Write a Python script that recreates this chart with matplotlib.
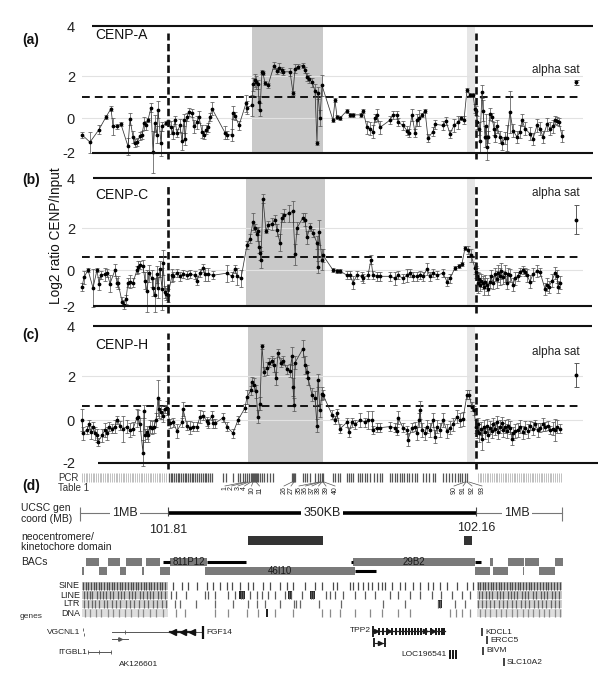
import numpy as np
import matplotlib
matplotlib.use("Agg")
import matplotlib.pyplot as plt
from matplotlib.patches import Rectangle

plt.rcParams['font.family'] = ['Liberation Sans', 'DejaVu Sans']

# ------------------------------------------------------------------ data
# positions are along the compressed genomic axis of the figure (left 1MB flank,
# 101.81-102.16 core, right 1MB flank)
a_pos = [82, 90, 99, 106, 111, 113, 117, 121, 128, 130,
         133, 135, 137, 140, 142, 144, 146, 148, 151, 153,
         155, 157, 158, 161, 162, 166, 168, 171, 173, 175,
         177, 180, 182, 184, 185, 187, 189, 192, 194, 197,
         199, 202, 204, 206, 208, 210, 212, 225, 227, 232,
         233, 235, 239, 246, 247, 252, 253, 255, 256, 258,
         259, 260, 262, 263, 265, 268, 274, 277, 279, 282,
         283, 290, 293, 295, 298, 303, 305, 307, 309, 312,
         315, 317, 318, 320, 322, 333, 335, 337, 340, 347,
         350, 353, 361, 363, 367, 370, 373, 375, 377, 380,
         390, 393, 397, 398, 403, 407, 409, 412, 415, 417,
         419, 422, 425, 428, 433, 435, 443, 446, 450, 454,
         458, 461, 464, 467, 470, 473, 475, 476, 477, 479,
         480, 482, 483, 485, 486, 487, 488, 490, 492, 494,
         495, 497, 500, 502, 505, 507, 510, 513, 517, 520,
         522, 525, 530, 533, 537, 540, 543, 547, 550, 553,
         555, 557, 559, 562]
a_val = [-0.8, -1.15, -0.55, 0.05, 0.45, -0.4, -0.4, -0.3, -1.35, -0.05,
         -0.9, -1.2, -1.15, -0.85, -0.8, -0.25, -0.35, -0.1, 0.5, -1.6,
         -0.25, -0.8, 0.4, -1.2, -0.4, -0.25, -0.2, -0.45, -0.7, -0.1,
         -0.7, -0.35, -1.1, -0.1, -1.0, 0.05, 0.3, 0.25, -0.4, -0.2,
         0.05, -0.65, -0.8, -0.55, -0.45, 0.05, 0.45, -0.7, -0.8, -0.8,
         0.25, 0.1, -0.35, 0.7, 0.5, 0.6, 1.6, 1.8, 1.7, 1.6,
         0.75, 0.4, 2.2, 2.15, 1.65, 1.55, 2.5, 2.25, 2.4, 2.3,
         2.2, 2.2, 1.2, 2.35, 2.45, 2.5, 2.3, 1.95, 1.85, 1.7,
         1.3, -1.2, 1.2, 0.0, 1.55, -0.1, 0.85, 0.05, 0.0, 0.35,
         0.15, 0.15, 0.15, 0.35, -0.45, -0.5, -0.65, 0.0, 0.15, -0.45,
         -0.1, 0.15, 0.15, -0.2, -0.35, -0.6, -0.7, 0.15, -0.7, -0.1,
         0.0, 0.15, 0.35, -0.95, -0.65, -0.3, -0.35, -0.15, -0.75, -0.35,
         -0.2, 0.0, -0.1, 1.35, 1.1, 1.1, 0.45, 0.35, -0.2, -0.5,
         -1.1, 1.25, 0.35, -0.9, -0.4, -1.4, -0.9, 0.2, 0.05, -0.5,
         -0.85, -0.4, -0.9, -1.2, -0.95, -0.95, 0.3, -0.6, -0.9, -0.65,
         -0.1, -0.5, -0.75, -1.0, -0.35, -0.5, -0.9, -0.3, -0.5, -0.4,
         -0.1, -0.15, -0.2, -0.85]
a_err = [0.15, 0.5, 0.2, 0.1, 0.1, 0.4, 0.1, 0.1, 0.4, 0.3,
         0.3, 0.2, 0.2, 0.2, 0.2, 0.3, 0.2, 0.1, 0.2, 1.0,
         0.4, 0.4, 0.4, 0.6, 0.2, 0.1, 0.1, 0.3, 0.3, 0.2,
         0.2, 0.3, 0.4, 0.3, 0.3, 0.2, 0.2, 0.2, 0.3, 0.3,
         0.3, 0.3, 0.2, 0.2, 0.2, 0.2, 0.3, 0.3, 0.2, 0.3,
         0.3, 0.2, 0.2, 0.4, 0.3, 0.5, 0.3, 0.3, 0.3, 0.2,
         0.3, 0.3, 0.1, 0.1, 0.1, 0.1, 0.15, 0.15, 0.2, 0.15,
         0.15, 0.2, 0.1, 0.2, 0.1, 0.1, 0.15, 0.2, 0.2, 0.2,
         0.3, 0.1, 0.3, 0.4, 0.5, 0.1, 0.1, 0.1, 0.1, 0.1,
         0.1, 0.1, 0.1, 0.1, 0.3, 0.3, 0.3, 0.2, 0.3, 0.3,
         0.2, 0.2, 0.2, 0.2, 0.2, 0.2, 0.2, 0.3, 0.2, 0.3,
         0.4, 0.1, 0.1, 0.2, 0.2, 0.2, 0.2, 0.2, 0.2, 0.3,
         0.3, 0.1, 0.2, 0.1, 0.1, 0.1, 0.2, 0.2, 0.3, 0.3,
         0.5, 0.3, 0.5, 0.5, 0.6, 0.6, 0.3, 0.3, 0.2, 0.3,
         0.3, 0.3, 0.3, 0.3, 0.3, 0.6, 1.0, 0.3, 0.3, 0.3,
         0.3, 0.3, 0.3, 0.3, 0.3, 0.3, 0.3, 0.3, 0.3, 0.3,
         0.2, 0.2, 0.2, 0.3]

b_pos = [82, 84, 88, 93, 97, 99, 101, 105, 107, 110,
         115, 117, 118, 122, 124, 126, 128, 130, 133, 137,
         138, 140, 143, 145, 147, 149, 152, 153, 155, 157,
         158, 160, 162, 163, 165, 166, 168, 172, 173, 177,
         180, 183, 187, 190, 195, 197, 200, 203, 205, 208,
         213, 227, 232, 235, 237, 241, 247, 250, 253, 255,
         257, 258, 259, 260, 261, 263, 266, 268, 272, 275,
         277, 280, 282, 284, 289, 293, 295, 297, 303, 305,
         307, 310, 313, 317, 318, 319, 322, 323, 333, 337,
         340, 347, 350, 353, 357, 362, 363, 368, 371, 373,
         377, 380, 390, 395, 398, 403, 407, 410, 413, 417,
         420, 423, 427, 430, 433, 437, 443, 447, 450, 455,
         459, 462, 465, 468, 471, 475, 476, 477, 478, 479,
         480, 481, 483, 484, 485, 487, 488, 490, 491, 493,
         495, 497, 498, 500, 501, 503, 505, 507, 508, 510,
         513, 515, 518, 520, 523, 525, 527, 530, 533, 537,
         540, 545, 547, 549, 552, 555, 557, 558, 560]
b_val = [-0.8, -0.35, 0.0, -0.85, 0.0, -0.65, -0.25, -0.2, -0.15, -0.65,
         0.0, -0.6, -0.6, -1.5, -1.65, -1.4, -0.6, -0.55, -0.6, 0.0,
         0.15, 0.25, 0.2, -0.5, -1.0, -0.15, -0.4, -0.85, -1.2, -0.2,
         -0.85, 0.05, -0.9, 0.35, -1.05, -1.15, -1.2, -0.25, -0.3, -0.15,
         -0.3, -0.2, -0.25, -0.2, -0.25, -0.5, -0.15, 0.1, -0.2, -0.2,
         -0.25, -0.15, -0.3, 0.05, -0.3, -0.4, 1.2, 1.5, 2.3, 2.0,
         1.7, 1.85, 1.1, 0.8, 0.5, 3.4, 1.85, 2.15, 2.2, 2.4,
         1.9, 1.3, 2.5, 2.6, 2.7, 2.8, 0.75, 2.0, 2.5, 2.4,
         1.55, 2.05, 1.75, 1.3, 0.15, 1.8, 0.5, 0.7, 0.0, -0.05,
         -0.05, -0.25, -0.25, -0.6, -0.25, -0.3, -0.4, -0.25, 0.5, -0.25,
         -0.3, -0.3, -0.3, -0.4, -0.25, -0.4, -0.25, -0.15, -0.3, -0.3,
         -0.25, -0.3, 0.05, -0.3, -0.15, -0.25, -0.15, -0.55, -0.4, 0.1,
         0.2, 0.3, 1.05, 0.95, 0.7, 0.1, -0.1, -0.3, -0.6, -0.45,
         -0.7, -0.5, -0.6, -0.8, -0.55, -0.7, -0.9, -0.55, -0.3, -0.6,
         -0.2, -0.45, -0.15, -0.3, -0.05, -0.35, -0.15, -0.6, -0.2, -0.25,
         -0.7, -0.4, -0.3, -0.1, 0.0, -0.1, -0.25, -0.55, -0.2, -0.05,
         -0.1, -0.9, -0.7, -0.8, -0.5, -0.15, -0.3, -0.8, -0.6]
b_err = [0.2, 0.3, 0.1, 0.9, 0.1, 0.3, 0.2, 0.3, 0.2, 0.4,
         0.3, 0.2, 0.3, 0.2, 0.2, 0.2, 0.2, 0.3, 0.2, 0.2,
         0.3, 0.2, 0.3, 0.4, 1.0, 0.4, 0.4, 0.4, 0.8, 0.4,
         0.5, 0.4, 1.0, 0.6, 0.3, 0.3, 0.3, 0.3, 0.2, 0.2,
         0.2, 0.2, 0.2, 0.2, 0.2, 0.2, 0.2, 0.2, 0.3, 0.3,
         0.2, 0.4, 0.2, 0.2, 0.4, 0.4, 0.2, 0.2, 0.4, 0.2,
         0.3, 0.2, 0.3, 0.3, 0.4, 0.2, 0.1, 0.2, 0.3, 0.2,
         0.3, 0.4, 0.2, 0.3, 0.4, 0.5, 0.5, 0.3, 0.2, 0.3,
         0.3, 0.2, 0.2, 0.3, 0.3, 0.6, 0.5, 0.3, 0.1, 0.1,
         0.1, 0.2, 0.2, 0.3, 0.2, 0.2, 0.2, 0.2, 0.2, 0.2,
         0.2, 0.2, 0.2, 0.3, 0.2, 0.2, 0.3, 0.2, 0.2, 0.2,
         0.2, 0.2, 0.3, 0.2, 0.2, 0.2, 0.2, 0.2, 0.2, 0.1,
         0.1, 0.1, 0.1, 0.2, 0.3, 0.3, 0.3, 0.4, 0.5, 0.3,
         0.3, 0.3, 0.3, 0.4, 0.3, 0.3, 0.3, 0.3, 0.3, 0.3,
         0.3, 0.4, 0.4, 0.4, 0.4, 0.3, 0.4, 0.3, 0.3, 0.3,
         0.3, 0.3, 0.2, 0.2, 0.2, 0.2, 0.3, 0.3, 0.3, 0.3,
         0.2, 0.3, 0.3, 0.3, 0.3, 0.3, 0.3, 0.3, 0.3]

c_pos = [82, 83, 87, 89, 91, 93, 95, 97, 98, 102,
         105, 107, 109, 112, 115, 117, 120, 123, 127, 130,
         133, 137, 138, 140, 143, 144, 145, 147, 148, 150,
         152, 154, 156, 158, 159, 161, 163, 165, 167, 170,
         173, 177, 182, 183, 187, 190, 193, 197, 200, 203,
         207, 208, 212, 213, 215, 223, 227, 233, 238, 245,
         247, 251, 252, 254, 256, 258, 260, 262, 264, 267,
         269, 272, 274, 276, 278, 281, 283, 287, 290, 292,
         293, 294, 295, 303, 305, 307, 308, 312, 315, 317,
         318, 320, 322, 323, 332, 335, 337, 340, 347, 349,
         352, 355, 360, 365, 368, 372, 373, 377, 380, 390,
         395, 397, 398, 403, 407, 408, 412, 415, 417, 419,
         420, 422, 425, 427, 430, 433, 435, 437, 440, 443,
         447, 450, 453, 457, 460, 463, 467, 469, 472, 474,
         476, 477, 478, 479, 481, 482, 484, 485, 487, 488,
         490, 492, 493, 495, 497, 498, 500, 502, 503, 505,
         507, 508, 510, 512, 513, 515, 518, 520, 523, 525,
         528, 530, 533, 535, 538, 540, 543, 545, 548, 550,
         553, 555, 557, 560]
c_val = [0.0, -0.6, -0.45, -0.2, -0.55, -0.3, -0.6, -0.7, -1.0, -0.7,
         -0.45, -0.6, -0.3, -0.4, -0.3, 0.0, -0.25, -0.4, -0.3, -0.45,
         -0.4, 0.1, 0.15, -0.2, -1.5, 0.4, -0.7, -0.55, -0.7, -0.3,
         -0.35, -0.3, 0.0, 1.0, 0.5, 0.35, 0.2, 0.5, 0.55, -0.15,
         -0.1, -0.5, -0.1, 0.5, -0.25, -0.35, -0.3, -0.3, 0.15, 0.2,
         -0.05, -0.15, 0.2, -0.15, -0.15, 0.1, -0.3, -0.6, 0.0, 0.55,
         1.05, 1.35, 1.75, 1.6, 1.3, 0.15, 0.75, 3.35, 2.2, 2.35,
         2.6, 2.7, 2.5, 1.9, 3.05, 2.6, 2.7, 2.3, 2.25, 2.9,
         1.5, 0.7, 2.6, 3.25, 2.5, 2.2, 1.9, 1.15, 1.0, -0.25,
         1.8, 0.45, 1.2, 1.15, 0.25, 0.0, 0.3, -0.4, -0.1, -0.55,
         -0.1, -0.2, 0.0, -0.1, 0.0, 0.0, -0.45, -0.35, -0.35, -0.3,
         -0.35, -0.5, 0.1, -0.35, -0.45, -0.9, -0.35, -0.3, -0.6, 0.0,
         0.45, -0.45, -0.6, -0.3, -0.45, 0.0, -0.75, -0.3, -0.45, 0.0,
         -0.5, -0.35, -0.2, 0.15, 0.0, 0.05, 1.15, 1.15, 0.6, 0.45,
         -0.3, -0.5, -0.2, -0.6, -0.4, -0.85, -0.3, -0.55, -0.25, -0.7,
         -0.35, -0.5, -0.2, -0.4, -0.1, -0.55, -0.3, -0.15, -0.45, -0.3,
         -0.5, -0.25, -0.35, -0.85, -0.6, -0.5, -0.45, -0.3, -0.55, -0.35,
         -0.5, -0.25, -0.4, -0.2, -0.45, -0.35, -0.2, -0.3, -0.25, -0.45,
         -0.4, -0.45, -0.3, -0.4]
c_err = [0.5, 0.3, 0.2, 0.2, 0.3, 0.2, 0.3, 0.3, 0.2, 0.3,
         0.3, 0.3, 0.2, 0.2, 0.3, 0.2, 0.2, 0.6, 0.3, 0.3,
         0.3, 0.4, 0.3, 0.3, 0.6, 0.3, 0.3, 0.3, 0.3, 0.3,
         0.3, 0.3, 0.3, 0.8, 0.4, 0.3, 0.3, 0.2, 0.3, 0.2,
         0.2, 0.3, 0.2, 0.3, 0.2, 0.3, 0.2, 0.2, 0.3, 0.2,
         0.2, 0.2, 0.2, 0.2, 0.2, 0.2, 0.2, 0.2, 0.2, 0.2,
         0.3, 0.2, 0.2, 0.3, 0.3, 0.3, 0.3, 0.1, 0.2, 0.3,
         0.2, 0.2, 0.3, 0.3, 0.2, 0.2, 0.2, 0.2, 0.3, 0.4,
         0.4, 0.3, 0.3, 0.4, 0.4, 0.3, 0.3, 0.3, 0.3, 0.3,
         0.3, 0.3, 0.3, 0.2, 0.2, 0.2, 0.2, 0.2, 0.2, 0.2,
         0.2, 0.2, 0.3, 0.2, 0.4, 0.4, 0.2, 0.2, 0.2, 0.2,
         0.2, 0.2, 0.3, 0.2, 0.2, 0.3, 0.2, 0.2, 0.3, 0.3,
         0.4, 0.3, 0.3, 0.3, 0.3, 0.3, 0.3, 0.3, 0.3, 0.3,
         0.3, 0.3, 0.3, 0.3, 0.3, 0.3, 0.2, 0.2, 0.2, 0.2,
         0.3, 0.3, 0.3, 0.4, 0.3, 0.5, 0.3, 0.3, 0.3, 0.3,
         0.3, 0.3, 0.3, 0.3, 0.3, 0.3, 0.3, 0.3, 0.3, 0.3,
         0.3, 0.3, 0.3, 0.3, 0.3, 0.3, 0.3, 0.3, 0.3, 0.3,
         0.3, 0.2, 0.3, 0.2, 0.3, 0.2, 0.3, 0.2, 0.2, 0.2,
         0.3, 0.5, 0.3, 0.2]

alpha_pos = 576
alpha_val = [1.7, 2.4, 2.05]
alpha_err = [0.12, 0.7, 0.55]
threshold = [1.0, 0.63, 0.64]
panel_names = ['CENP-A', 'CENP-C', 'CENP-H']
panel_tags = ['(a)', '(b)', '(c)']
tick_labels = ['-2', '0', '2', '4']

core_left, core_right = 168, 476          # 101.81 / 102.16
domain_span = [(252, 323), (246, 325), (248, 323)]
strip_span = (467, 475)

# panel (d) data
pcr_light = [82, 84, 86, 87, 89, 91, 93, 94, 96, 98, 100, 101, 103, 105, 107, 108,
             110, 112, 114, 116, 117, 119, 121, 123, 124, 126, 128, 130, 132, 133,
             135, 137, 139, 141, 142, 144, 146, 148, 150, 151, 153, 155, 157, 159,
             160, 162, 164, 166,
             478, 480, 481, 483, 485, 487, 488, 490, 492, 494, 496, 497, 499, 501,
             503, 505, 506, 508, 510, 512, 514, 515, 517, 519, 521, 523, 524, 526,
             528, 530, 532, 533, 535, 537, 539, 541, 542, 544, 546, 548, 550, 551,
             553, 555, 557, 559, 561]
pcr_dark = [169, 171, 172, 174, 176, 178, 179, 181, 183, 185, 186, 188, 190, 192,
            193, 195, 197, 199, 201, 203, 205, 206, 208, 210, 212, 223, 226, 233,
            238, 240, 243, 245, 247, 249, 251, 252, 253, 254, 255, 256, 257, 258,
            260, 262, 264, 267, 270, 273, 292, 293, 294, 295, 303, 305, 307, 310,
            315, 318, 320, 322, 323, 333, 335, 338, 340, 347, 349, 351, 353, 358,
            360, 362, 365, 367, 370, 374, 377, 380, 382, 390, 392, 395, 397, 400,
            402, 404, 407, 409, 412, 415, 417, 423, 426, 429, 433, 435, 443, 446,
            449, 452, 455, 458, 460, 462, 465, 467]
pcr_ids = ['1', '2', '3', '4', '10', '11', '26', '27', '35', '36', '37', '38', '39', '40',
           '90', '91', '92', '93']
pcr_label_x = [225, 231.5, 238, 244.5, 251.5, 259.5, 284, 291, 299, 305.5, 312, 318.5,
               326, 335, 454, 463, 472, 482]
pcr_mark_x = [245, 247, 249, 251, 253, 256, 292, 294, 319, 320, 321, 322, 323, 324,
              465, 466, 467, 469]

neo_domains = [(248, 323), (464, 472)]
bac_row1 = [(86, 99), (108, 120), (126, 142), (146, 160), (490, 493), (508, 524),
            (525, 539), (555, 563)]
bac_row2 = [(82, 84), (99, 107), (120, 126), (142, 144), (160, 170), (475, 490),
            (493, 508), (523, 524), (539, 555)]
bac_named = [('811P12', 170, 207, 1), ('46I10', 205, 355, 2), ('29B2', 353, 475, 1)]
bac_ends = [(163, 170, 1), (207, 246, 1), (355, 376, 2), (351, 353, 1), (475, 481, 1)]

rep_tracks = ['SINE', 'LINE', 'LTR', 'DNA']
rep_band = ['#c4c4c4', '#cacaca', '#d2d2d2', '#dedede']
sine_bars = [83, 86, 88, 91, 94, 96, 99, 101, 104, 107, 109, 112, 114, 117, 120, 122,
             125, 128, 131, 133, 136, 138, 141, 144, 146, 149, 151, 154, 157, 160,
             162, 165, 173, 182, 188, 197, 207, 213, 220, 227, 232, 240, 248, 253,
             263, 270, 280, 287, 293, 305, 315, 322, 333, 337, 350, 353, 358, 363,
             368, 372, 378, 382, 385, 392, 400, 405, 413, 420, 428, 433, 440, 447,
             457, 467, 473, 478, 480, 483, 485, 488, 491, 493, 496, 499, 501, 504,
             507, 510, 512, 515, 518, 520, 523, 526, 529, 531, 534, 537, 540, 543,
             546, 548, 551, 554, 557, 560]
line_bars = [84, 87, 90, 92, 97, 100, 103, 106, 110, 113, 118, 121, 124, 129, 132,
             135, 140, 143, 147, 150, 153, 158, 161, 165, 171, 176, 186, 205, 208,
             215, 228, 235, 241, 243, 250, 257, 262, 268, 275, 285, 289, 291, 302,
             311, 313, 326, 330, 335, 343, 355, 365, 375, 390, 398, 410, 420, 432,
             441, 452, 462, 470, 479, 482, 486, 489, 492, 497, 500, 503, 508, 511,
             514, 517, 522, 525, 528, 533, 536, 541, 544, 547, 552, 555, 559]
ltr_bars = [84, 88, 92, 95, 99, 104, 107, 112, 116, 120, 126, 130, 134, 139, 144,
            148, 153, 157, 162, 166, 175, 180, 196, 215, 233, 248, 257, 265, 280,
            294, 296, 300, 319, 341, 383, 405, 438, 440, 455, 465, 478, 482, 486,
            490, 494, 499, 503, 507, 512, 516, 521, 525, 529, 534, 538, 542, 546,
            551, 555, 559]
dna_bars = [85, 90, 96, 101, 108, 113, 119, 125, 131, 138, 143, 150, 156, 163, 176,
            185, 215, 228, 247, 258, 275, 293, 322, 330, 340, 355, 370, 382, 398,
            410, 450, 456, 462, 470, 480, 485, 490, 496, 501, 506, 512, 517, 523,
            528, 533, 539, 544, 549, 555, 560]
dark_blocks = [(1, 239, 245), (1, 288, 292), (1, 310, 315), (2, 438, 442), (3, 266, 268)]

tpp2_exons = [379, 383, 387, 392, 396, 400, 403, 406, 409, 412, 415, 418, 421, 426,
              431, 436, 439, 442, 444]
loc_exons = [449, 452, 455]
fgf14_exons = [173, 183, 192]
small_genes = [('KDCL1', 482, 632), ('ERCC5', 487, 640), ('BIVM', 483, 651),
               ('SLC10A2', 504, 662)]

# ------------------------------------------------------------------ figure
W, H = 600, 690
fig = plt.figure(figsize=(6, 6.9), dpi=100)
ov = fig.add_axes([0, 0, 1, 1], zorder=5)
ov.set_xlim(0, W)
ov.set_ylim(H, 0)
ov.axis('off')
ov.patch.set_alpha(0)

X0, X1 = 82, 583
geom = [dict(top=26, bot=153, zero=118, ppu=21.0, vd=(33, 159), line=(92, 593, 92, 593),
             tag_y=40, name_y=35, alpha_y=70),
        dict(top=178, bot=306, zero=270, ppu=21.0, vd=(185, 313), line=(93, 592, 93, 592),
             tag_y=180, name_y=195, alpha_y=193),
        dict(top=326, bot=463, zero=420, ppu=22.0, vd=(333, 469), line=(93, 592, 98, 598),
             tag_y=335, name_y=345, alpha_y=352)]
series = [(a_pos, a_val, a_err), (b_pos, b_val, b_err), (c_pos, c_val, c_err)]

for i, g in enumerate(geom):
    ylo = (g['zero'] - g['bot']) / g['ppu']
    yhi = (g['zero'] - g['top']) / g['ppu']
    ax = fig.add_axes([X0 / W, 1 - g['bot'] / H, (X1 - X0) / W, (g['bot'] - g['top']) / H])
    ax.set_xlim(X0, X1)
    ax.set_ylim(ylo, yhi)
    ax.patch.set_alpha(0)
    for s in ax.spines.values():
        s.set_visible(False)
    ax.set_xticks([])
    ax.set_yticks([ylo, 0, 2, yhi])
    ax.set_yticklabels(tick_labels)
    ax.tick_params(axis='y', length=0, pad=5, labelsize=10.5, labelcolor='#222222')

    ax.axvspan(*domain_span[i], color='#c9c9c9', lw=0, zorder=0)
    ax.axvspan(*strip_span, color='#e6e6e6', lw=0, zorder=0)
    for gy in (0, 2):
        ax.axhline(gy, color='#e2e2e2', lw=0.8, zorder=0.5)
    ax.axhline(threshold[i], xmin=0, xmax=(579 - X0) / (X1 - X0), color='#111111',
               lw=1.4, dashes=(4, 2.6), zorder=1)
    lx0, lx1, bx0, bx1 = g['line']
    ax.plot([lx0, lx1], [yhi, yhi], color='#111111', lw=1.5, clip_on=False,
            solid_capstyle='butt', zorder=3)
    ax.plot([bx0, bx1], [ylo, ylo], color='#111111', lw=1.5, clip_on=False,
            solid_capstyle='butt', zorder=3)
    v0 = (g['zero'] - g['vd'][0]) / g['ppu']
    v1 = (g['zero'] - g['vd'][1]) / g['ppu']
    for vx in (core_left, core_right):
        ax.plot([vx, vx], [v1, v0], color='#111111', lw=1.9, dashes=(2.8, 1.3),
                clip_on=False, zorder=4)

    p, v, e = series[i]
    ax.errorbar(p, v, yerr=e, fmt='-', color='#333333', lw=0.55, ecolor='#5a5a5a',
                elinewidth=0.55, capsize=1.5, capthick=0.55, marker='o', ms=1.7,
                mfc='#000000', mec='#000000', zorder=2, clip_on=False)
    ax.errorbar([alpha_pos], [alpha_val[i]], yerr=[alpha_err[i]], fmt='o', ms=1.8,
                color='#000000', ecolor='#5a5a5a', elinewidth=0.7, capsize=1.8,
                capthick=0.7, zorder=2)

    ov.text(22, g['tag_y'], panel_tags[i], fontsize=10, fontweight='bold',
            va='center', ha='left', color='#111111')
    ov.text(95, g['name_y'], panel_names[i], fontsize=10, va='center', ha='left',
            color='#111111')
    ov.text(580, g['alpha_y'], 'alpha sat', fontsize=8.5, va='center', ha='right',
            color='#222222')

ov.text(56, 236, 'Log2 ratio CENP/Input', rotation=90, fontsize=9.8, va='center',
        ha='center', color='#111111')

# ------------------------------------------------------------------ panel (d)
ov.text(22, 486, '(d)', fontsize=10, fontweight='bold', va='center', color='#111111')
ov.text(58, 478, 'PCR', fontsize=7, va='center', color='#333333')
ov.text(58, 488, 'Table 1', fontsize=7, va='center', color='#333333')
ov.vlines(pcr_light, 473, 482, color='#b5b5b5', lw=0.6)
ov.vlines(pcr_dark, 473, 482, color='#555555', lw=0.9)
for lab, lx, mx in zip(pcr_ids, pcr_label_x, pcr_mark_x):
    ov.plot([lx, mx], [486, 482], color='#555555', lw=0.5)
    ov.text(lx, 486.5, lab, rotation=90, fontsize=5, ha='center', va='top',
            color='#222222')

ov.text(21, 508, 'UCSC gen', fontsize=7.5, va='center', color='#222222')
ov.text(21, 519, 'coord (MB)', fontsize=7.5, va='center', color='#222222')
ov.plot([80, core_left], [513, 513], color='#777777', lw=0.8)
ov.plot([core_right, 562], [513, 513], color='#777777', lw=0.8)
ov.plot([core_left, core_right], [513, 513], color='#000000', lw=2.6,
        solid_capstyle='butt')
ov.vlines([80, 562], 507, 521, color='#777777', lw=0.8)
ov.vlines([core_left, core_right], 507, 516, color='#444444', lw=0.8)
for tx, tl in ((125, '1MB'), (322, '350KB'), (517, '1MB')):
    ov.text(tx, 513, tl, fontsize=9, ha='center', va='center', color='#222222',
            bbox=dict(boxstyle='square,pad=0.15', fc='white', ec='none'))
ov.text(core_left, 530, '101.81', fontsize=9, ha='center', va='center', color='#222222')
ov.text(core_right, 528, '102.16', fontsize=9, ha='center', va='center', color='#222222')

ov.text(21, 537, 'neocentromere/', fontsize=7.5, va='center', color='#222222')
ov.text(21, 547, 'kinetochore domain', fontsize=7.5, va='center', color='#222222')
for x0, x1 in neo_domains:
    ov.add_patch(Rectangle((x0, 536), x1 - x0, 9, fc='#333333', ec='none'))

ov.text(21, 562, 'BACs', fontsize=7.5, va='center', color='#222222')
row_y = {1: 558, 2: 567}
for x0, x1 in bac_row1:
    ov.add_patch(Rectangle((x0, row_y[1]), x1 - x0, 8, fc='#7a7a7a', ec='none'))
for x0, x1 in bac_row2:
    ov.add_patch(Rectangle((x0, row_y[2]), x1 - x0, 8, fc='#7a7a7a', ec='none'))
for x0, x1, r in bac_ends:
    ov.plot([x0, x1], [row_y[r] + 4, row_y[r] + 4], color='#000000', lw=2.2,
            solid_capstyle='butt')
for lab, x0, x1, r in bac_named:
    ov.add_patch(Rectangle((x0, row_y[r]), x1 - x0, 8, fc='#7a7a7a', ec='none'))
    ov.text((x0 + x1) / 2, row_y[r] + 4.3, lab, fontsize=7, ha='center', va='center',
            color='#1a1a1a')

rep_y = [582, 591, 600, 609]
rep_lists = [sine_bars, line_bars, ltr_bars, dna_bars]
rep_cols = ['#4a4a4a', '#5a5a5a', '#666666', '#8a8a8a']
for k, name in enumerate(rep_tracks):
    y0 = rep_y[k]
    ov.text(80, y0 + 4, name, fontsize=6.5, ha='right', va='center', color='#222222')
    for bx0, bx1 in ((82, 168), (477, 562)):
        ov.add_patch(Rectangle((bx0, y0), bx1 - bx0, 8, fc=rep_band[k], ec='none'))
    ov.vlines(rep_lists[k], y0, y0 + 8, color=rep_cols[k], lw=0.9)
for k, x0, x1 in dark_blocks:
    ov.add_patch(Rectangle((x0, rep_y[k]), x1 - x0, 8, fc='#222222', ec='none'))

ov.text(20, 617, 'genes', fontsize=6, va='center', color='#333333')

# FGF14 / VGCNL1
ov.text(80, 632, 'VGCNL1', fontsize=6, va='center', ha='right', color='#222222')
ov.vlines([83, 84], [628, 633], [631, 636], color='#555555', lw=0.6)
ov.plot([112, 203], [632, 632], color='#555555', lw=0.7)
ov.plot([170, 195], [632, 632], color='#222222', lw=1.6)
ov.plot(fgf14_exons, [632] * len(fgf14_exons), ls='none', marker='<', ms=4.5,
        color='#111111')
ov.vlines([125], 630, 634, color='#555555', lw=0.6)
ov.vlines([203], 626, 639, color='#111111', lw=1.6)
ov.text(206, 632, 'FGF14', fontsize=6, va='center', color='#222222')
ov.plot([112, 128], [639, 639], color='#555555', lw=0.7)
ov.plot([120], [639], marker='>', ms=2.5, color='#555555')
ov.text(87, 652, 'ITGBL1', fontsize=6, va='center', ha='right', color='#222222')
ov.plot([88, 111], [652, 652], color='#555555', lw=0.7)
ov.vlines([88, 99, 111], 650, 654, color='#555555', lw=0.6)
ov.text(119, 664, 'AK126601', fontsize=6, va='center', color='#222222')

# TPP2
ov.text(371, 631, 'TPP2', fontsize=6, va='center', ha='right', color='#222222')
ov.plot([373, 445], [631, 631], color='#222222', lw=0.9)
ov.vlines([373], 626, 637, color='#111111', lw=1.3)
for ex in tpp2_exons:
    ov.add_patch(Rectangle((ex - 1, 627.5), 2, 7, fc='#1a1a1a', ec='none'))
ov.plot([376, 389, 425, 433], [631] * 4, ls='none', marker='>', ms=3, color='#1a1a1a')
ov.vlines([374, 385], 638, 647, color='#111111', lw=1.3)
ov.plot([374, 385], [643, 643], color='#222222', lw=0.8)
ov.plot([380], [643], marker='>', ms=3, color='#1a1a1a')
ov.text(447, 654, 'LOC196541', fontsize=6, va='center', ha='right', color='#222222')
for ex in loc_exons:
    ov.add_patch(Rectangle((ex, 649.5), 2.2, 9.5, fc='#1a1a1a', ec='none'))
for name, bx, by in small_genes:
    ov.vlines([bx], by - 4, by + 4, color='#222222', lw=1.2)
    ov.text(bx + 3, by, name, fontsize=6, va='center', color='#222222')

fig.savefig('out.png', dpi=100)
